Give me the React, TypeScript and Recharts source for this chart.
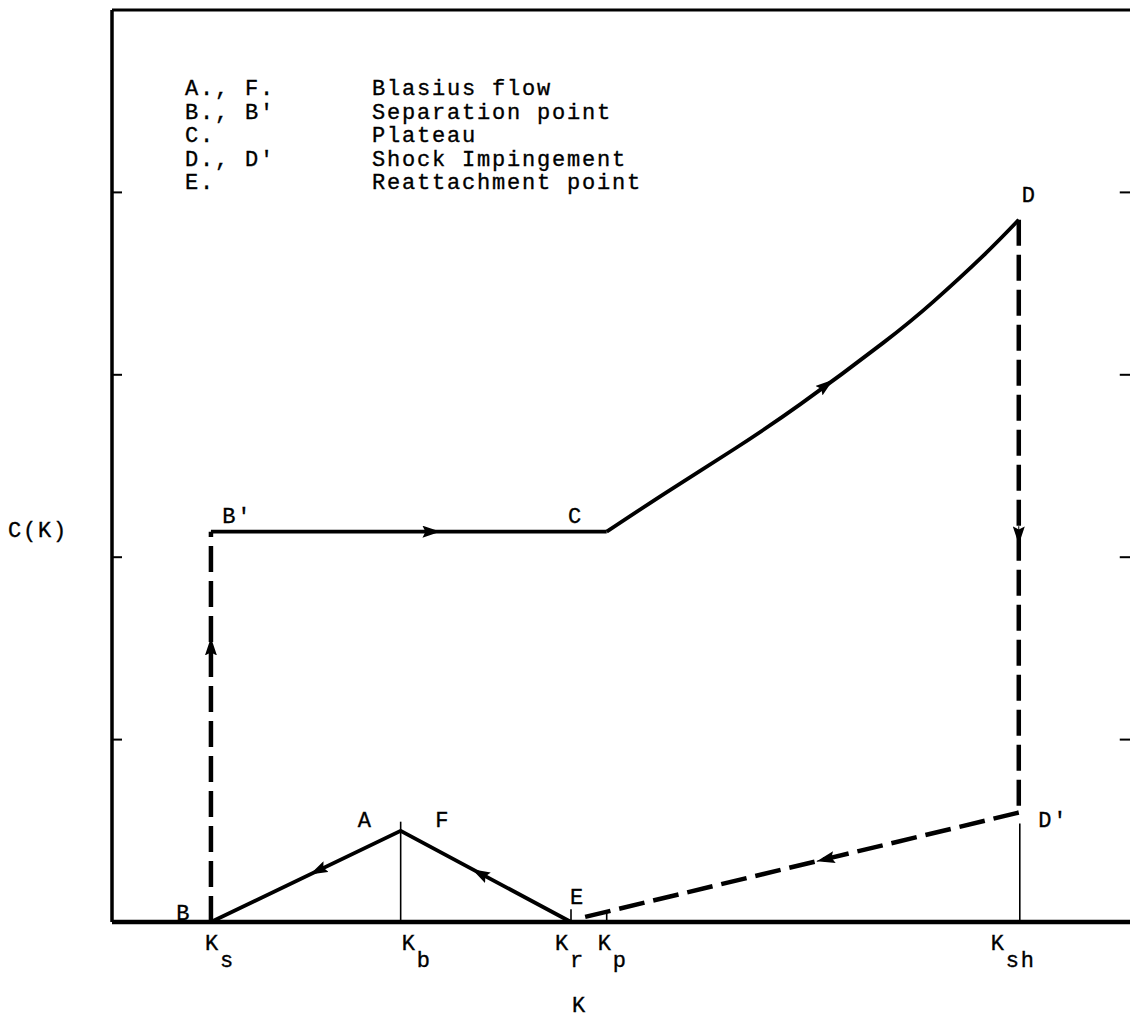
import React from 'react';
import { ComposedChart, Line, XAxis, YAxis, Scatter, ReferenceLine, Customized } from 'recharts';

const FONT = '"Liberation Mono", "DejaVu Sans Mono", monospace';

// characteristic K values
const K_S = 0.97;
const K_B = 2.83;
const K_R = 4.5;
const K_P = 4.85;
const K_D = 8.89;
const K_SH = 8.9;
const K_MAX = 10;

const X_TICKS = [K_S, K_B, K_R, K_P, K_SH];
const X_TICK_SUBS = ['s', 'b', 'r', 'p', 'sh'];
const Y_TICKS = [1, 2, 3, 4];

const PLATEAU = 2.14;
const PEAK = 0.5;
const D_TOP = 3.85;
const D_LOW = 0.6;

// path pieces B -> B' -> C -> D -> D' -> E -> F/A -> B
const blasius = [
  { x: K_S, y: 0 },
  { x: K_B, y: PEAK },
  { x: K_R, y: 0 },
];
const separation = [
  { x: K_S, y: 0 },
  { x: K_S, y: PLATEAU },
];
const plateau = [
  { x: K_S, y: PLATEAU },
  { x: K_P, y: PLATEAU },
];
const compression = [
  { x: K_P, y: PLATEAU },
  { x: 5.44, y: 2.357 },
  { x: 6.09, y: 2.589 },
  { x: 6.75, y: 2.839 },
  { x: 7.56, y: 3.175 },
  { x: 8.05, y: 3.4 },
  { x: 8.54, y: 3.652 },
  { x: K_D, y: D_TOP },
];
const shock = [
  { x: K_D, y: D_TOP },
  { x: K_D, y: D_LOW },
];
const relax = [
  { x: K_D, y: D_LOW },
  { x: 4.58, y: 0.02 },
];

// arrow heads: [tail, tip]
const arrows = [
  [{ x: K_S, y: 1.45 }, { x: K_S, y: 1.56 }],
  [{ x: 3.12, y: PLATEAU }, { x: 3.22, y: PLATEAU }],
  [{ x: 6.9, y: 2.9 }, { x: 7.07, y: 2.973 }],
  [{ x: K_D, y: 2.17 }, { x: K_D, y: 2.07 }],
  [{ x: 7.01, y: 0.346 }, { x: 6.91, y: 0.333 }],
  [{ x: 3.63, y: 0.259 }, { x: 3.53, y: 0.289 }],
  [{ x: 2.04, y: 0.288 }, { x: 1.94, y: 0.261 }],
];

// thin marker lines rising from the K axis
const stems = [
  { x: K_B, top: 0.55 },
  { x: K_R, top: 0.07 },
  { x: K_P, top: 0.05 },
  { x: K_SH, top: 0.54 },
];

const pointLabels = [
  { x: 0.63, y: 0.01, text: 'B' },
  { x: 1.08, y: 2.19, text: "B'" },
  { x: 4.47, y: 2.19, text: 'C' },
  { x: 8.92, y: 3.95, text: 'D' },
  { x: 9.08, y: 0.52, text: "D'" },
  { x: 2.41, y: 0.52, text: 'A' },
  { x: 3.17, y: 0.52, text: 'F' },
  { x: 4.49, y: 0.1, text: 'E' },
];

const LEGEND_KEYS = ['A., F.', "B., B'", 'C.', "D., D'", 'E.'];
const LEGEND_TEXT = ['Blasius flow', 'Separation point', 'Plateau', 'Shock Impingement', 'Reattachment point'];

const TICK_DX = [-6, 1, -16, -9, -29];

const textStyle = { fontFamily: FONT, fontSize: 22, letterSpacing: 1.8, fill: '#000', stroke: '#000', strokeWidth: 0.35 };

function KTick(props: any) {
  const { x, y, payload } = props;
  const i = X_TICKS.indexOf(payload.value);
  if (i < 0) return null;
  return (
    <text x={x + TICK_DX[i]} y={y + 28} style={textStyle}>
      K
      <tspan dy={17}>{X_TICK_SUBS[i]}</tspan>
    </text>
  );
}

const NoLabel = () => <g />;

function ChartTexts() {
  return (
    <g>
      {LEGEND_KEYS.map((k, i) => (
        <text key={'k' + i} x={185} y={95 + i * 23.5} style={textStyle}>
          {k}
        </text>
      ))}
      {LEGEND_TEXT.map((t, i) => (
        <text key={'t' + i} x={372} y={95 + i * 23.5} style={textStyle}>
          {t}
        </text>
      ))}
      <text x={8} y={537} style={textStyle}>C(K)</text>
      <text x={572} y={1012} style={textStyle}>K</text>
    </g>
  );
}

const solid = { stroke: '#000', strokeWidth: 3.8, dot: false, activeDot: false, isAnimationActive: false } as const;
const dashed = { ...solid, strokeWidth: 4.5, strokeDasharray: '26 9' };

export default function App() {
  return (
    <div style={{ position: 'absolute', left: 0, top: 0, width: 1130, height: 1018, overflow: 'hidden', background: '#fff' }}>
      <ComposedChart width={1132} height={1018} margin={{ top: 10, right: 0, bottom: 0, left: 112 }}>
        <defs>
          <marker id="arrowHead" viewBox="0 0 18 12" refX={18} refY={6} markerWidth={18} markerHeight={12} markerUnits="userSpaceOnUse" orient="auto">
            <path d="M0,0 L18,6 L0,12 L3,6 Z" fill="#000" />
          </marker>
        </defs>
        <XAxis
          type="number"
          dataKey="x"
          domain={[0, K_MAX]}
          ticks={X_TICKS}
          interval={0}
          height={96}
          tickLine={false}
          tickSize={0}
          tickMargin={0}
          axisLine={{ stroke: '#000', strokeWidth: 4.5 }}
          tick={(p: any) => <KTick {...p} />}
        />
        <YAxis
          yAxisId="c"
          type="number"
          dataKey="y"
          domain={[0, 5]}
          ticks={Y_TICKS}
          width={20}
          mirror
          tick={NoLabel}
          tickSize={10}
          tickLine={{ stroke: '#000', strokeWidth: 2 }}
          axisLine={{ stroke: '#000', strokeWidth: 3.5 }}
        />
        <ReferenceLine yAxisId="c" y={5} stroke="#000" strokeWidth={3} />
        {/* right-hand inward ticks */}
        {Y_TICKS.map((v) => (
          <ReferenceLine
            key={'rt' + v}
            yAxisId="c"
            segment={[{ x: K_MAX - 0.12, y: v }, { x: K_MAX, y: v }]}
            stroke="#000"
            strokeWidth={2}
          />
        ))}
        {stems.map((s, i) => (
          <ReferenceLine
            key={'s' + i}
            yAxisId="c"
            segment={[{ x: s.x, y: 0 }, { x: s.x, y: s.top }]}
            stroke="#000"
            strokeWidth={1.6}
          />
        ))}
        <Line yAxisId="c" data={blasius} dataKey="y" type="linear" {...solid} />
        <Line yAxisId="c" data={separation} dataKey="y" type="linear" {...dashed} />
        <Line yAxisId="c" data={plateau} dataKey="y" type="linear" {...solid} />
        <Line yAxisId="c" data={compression} dataKey="y" type="natural" {...solid} />
        <Line yAxisId="c" data={shock} dataKey="y" type="linear" {...dashed} />
        <Line yAxisId="c" data={relax} dataKey="y" type="linear" {...dashed} />
        {arrows.map((a, i) => (
          <Line
            key={'a' + i}
            yAxisId="c"
            data={a}
            dataKey="y"
            type="linear"
            stroke="#000"
            strokeWidth={1}
            dot={false}
            activeDot={false}
            isAnimationActive={false}
            markerEnd="url(#arrowHead)"
          />
        ))}
        <Scatter
          yAxisId="c"
          data={pointLabels}
          dataKey="y"
          isAnimationActive={false}
          shape={(p: any) => (
            <text x={p.cx} y={p.cy} style={textStyle}>
              {p.payload.text}
            </text>
          )}
        />
        <Customized component={ChartTexts} />
      </ComposedChart>
    </div>
  );
}
